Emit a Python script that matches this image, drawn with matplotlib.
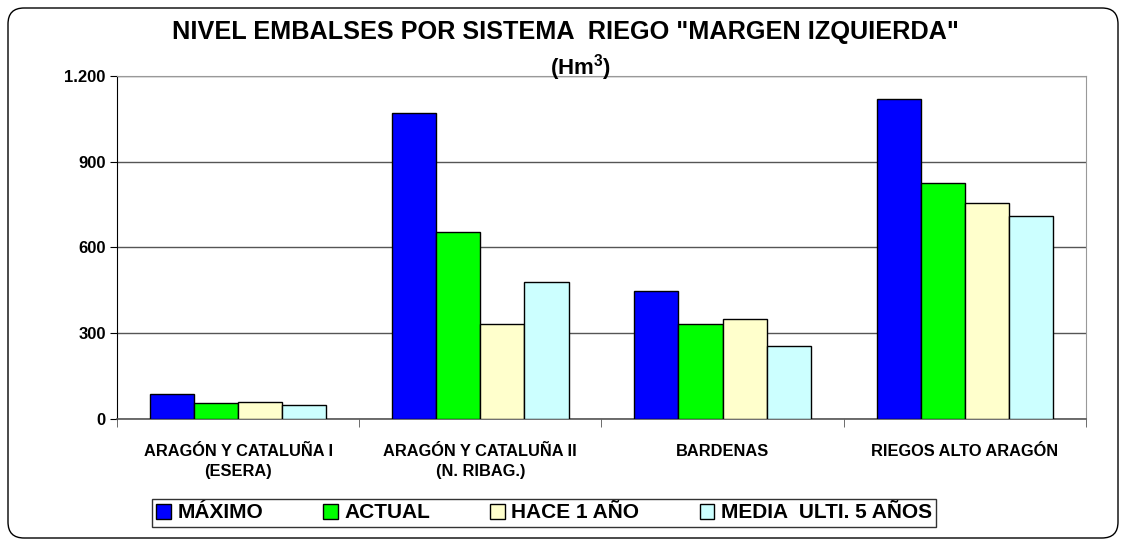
import matplotlib
matplotlib.use("Agg")
import matplotlib.pyplot as plt
import numpy as np
from matplotlib.patches import FancyBboxPatch
from matplotlib.transforms import IdentityTransform
from matplotlib.ticker import FuncFormatter

plt.rcParams['font.family'] = ['Liberation Sans', 'DejaVu Sans']
plt.rcParams['font.weight'] = 'bold'
plt.rcParams['mathtext.fontset'] = 'custom'
plt.rcParams['mathtext.bf'] = 'Liberation Sans:bold'
plt.rcParams['mathtext.rm'] = 'Liberation Sans:bold'

categorias = ["ARAGÓN Y CATALUÑA I\n(ESERA)", "ARAGÓN Y CATALUÑA II\n(N. RIBAG.)",
              "BARDENAS", "RIEGOS ALTO ARAGÓN"]
series = ["MÁXIMO", "ACTUAL", "HACE 1 AÑO", "MEDIA  ULTI. 5 AÑOS"]
maximo = [88, 1069, 447, 1118]
actual = [55, 655, 331, 826]
hace_1 = [60, 332, 350, 754]
media_5 = [50, 480, 255, 711]
colores = ["#0000FF", "#00FF00", "#FFFFCC", "#CCFFFF"]

valores = [maximo, actual, hace_1, media_5]

fig = plt.figure(figsize=(11.28, 5.44), dpi=100)
ax = fig.add_axes([0.1037, 0.2298, 0.859, 0.6305])

x = np.arange(len(categorias))
w = 0.182
for i in range(4):
    ax.bar(x + (i - 1.5) * w, valores[i], w, color=colores[i], edgecolor='black',
           linewidth=1.0, label=series[i], zorder=3)

ax.set_xlim(-0.5, 3.5)
ax.set_ylim(0, 1200)
ax.set_yticks([0, 300, 600, 900, 1200])
ax.yaxis.set_major_formatter(FuncFormatter(lambda v, p: f"{int(v):,}".replace(",", ".")))
ax.grid(axis='y', color='#555555', linewidth=1.0, zorder=0)
ax.set_xticks(x)
ax.set_xticklabels(categorias, fontsize=11.8, fontweight='bold', linespacing=1.4)
ax.set_xticks(np.arange(-0.5, 4.0, 1.0), minor=True)
ax.tick_params(axis='x', which='major', length=0, pad=18)
ax.tick_params(axis='x', which='minor', length=6, direction='out', color='#555555')
ax.tick_params(axis='y', length=5, direction='out', labelsize=12, pad=3)
for lab in ax.get_yticklabels():
    lab.set_fontweight('bold')

ax.spines['left'].set_color('black')
ax.spines['bottom'].set_color('#555555')
ax.spines['top'].set_color('#999999')
ax.spines['right'].set_color('#999999')
ax.spines['bottom'].set_linewidth(1.2)

fig.text(565 / 1128, 1 - 32 / 544, 'NIVEL EMBALSES POR SISTEMA  RIEGO "MARGEN IZQUIERDA"',
         ha='center', va='center', fontsize=18.2, fontweight='bold')
fig.text(580 / 1128, 1 - 68 / 544, r'(Hm$^{\mathbf{3}}$)', ha='center', va='center',
         fontsize=16, fontweight='bold')

leg = fig.legend(loc='center', bbox_to_anchor=(544 / 1128, 1 - 513 / 544), ncol=4,
                 fontsize=15, frameon=True, fancybox=False, edgecolor='black',
                 handlelength=0.7, handleheight=0.7, handletextpad=0.3,
                 columnspacing=2.9, borderpad=0.2, borderaxespad=0)
leg.get_frame().set_linewidth(1.0)
for t in leg.get_texts():
    t.set_fontweight('bold')

frame = FancyBboxPatch((8, 6), 1110, 530, boxstyle='round,pad=0,rounding_size=16',
                       transform=IdentityTransform(), facecolor='none',
                       edgecolor='black', linewidth=1.0)
fig.add_artist(frame)

fig.savefig('out.png', dpi=100)
